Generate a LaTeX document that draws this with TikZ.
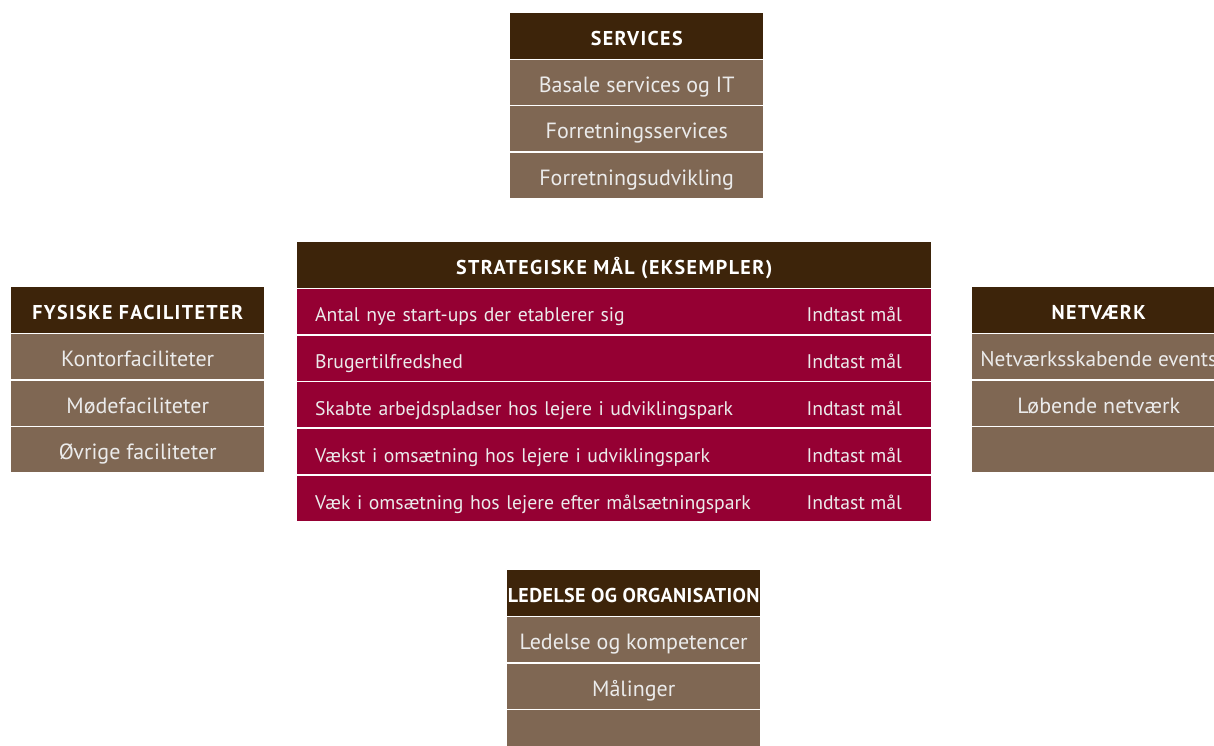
\documentclass[tikz,border=0pt]{standalone}
\usepackage{fontspec}
\setmainfont{PT Sans}
\usetikzlibrary{positioning}

\definecolor{headbrown}{HTML}{3D240A}
\definecolor{itembrown}{HTML}{7F6753}
\definecolor{goalred}{HTML}{950033}

\begin{document}
\begin{tikzpicture}[x=1pt, y=-1pt, node distance=1.5pt]

% Styles
\tikzset{
  head/.style={
    fill=headbrown,
    text=white,
    font=\bfseries\fontsize{20}{24}\selectfont\addfontfeature{LetterSpace=7},
    minimum width=253pt,
    minimum height=46pt,
    text height=18pt,
    text depth=0pt,
    inner sep=0pt
  },
  item/.style={
    fill=itembrown,
    text=white!92!black,
    font=\fontsize{22}{26}\selectfont,
    minimum width=253pt,
    minimum height=45pt,
    text height=20pt,
    text depth=0pt,
    inner sep=0pt
  },
  goal/.style={
    fill=goalred,
    text=white!92!black,
    font=\fontsize{19.7}{24}\selectfont,
    text width=598pt,
    align=left,
    inner xsep=18pt,
    inner ysep=0pt,
    minimum height=45pt,
    text height=21pt,
    text depth=0pt
  },
  target/.style={
    text=white!92!black,
    font=\fontsize{19.7}{24}\selectfont,
    inner sep=0pt,
    text height=21pt,
    text depth=0pt,
    anchor=west
  }
}

% Canvas
\fill[white] (0,0) rectangle (1214,746);
\useasboundingbox (0,0) rectangle (1214,746);

% Services
\node[head, anchor=north west] (svc) at (510,13) {SERVICES};
\node[item, below=0pt of svc] (svc1) {Basale services og IT};
\node[item, below=of svc1] (svc2) {Forretningsservices};
\node[item, below=of svc2] (svc3) {Forretningsudvikling};

% Strategiske maal
\node[head, anchor=north west, minimum width=634pt] (mal) at (297,242) {STRATEGISKE MÅL (EKSEMPLER)};
\node[goal, below=0pt of mal] (mal1) {Antal nye start-ups der etablerer sig};
\node[goal, below=of mal1] (mal2) {Brugertilfredshed};
\node[goal, below=of mal2] (mal3) {Skabte arbejdspladser hos lejere i udviklingspark};
\node[goal, below=of mal3] (mal4) {Vækst i omsætning hos lejere i udviklingspark};
\node[goal, below=of mal4] (mal5) {Væk i omsætning hos lejere efter målsætningspark};

\node[target] (t1) at ([xshift=-125pt]mal1.east) {Indtast mål};
\node[target] (t2) at ([xshift=-125pt]mal2.east) {Indtast mål};
\node[target] (t3) at ([xshift=-125pt]mal3.east) {Indtast mål};
\node[target] (t4) at ([xshift=-125pt]mal4.east) {Indtast mål};
\node[target] (t5) at ([xshift=-125pt]mal5.east) {Indtast mål};

% Fysiske faciliteter
\node[head, anchor=north west] (fys) at (11,287) {FYSISKE FACILITETER};
\node[item, below=0pt of fys] (fys1) {Kontorfaciliteter};
\node[item, below=of fys1] (fys2) {Mødefaciliteter};
\node[item, below=of fys2] (fys3) {Øvrige faciliteter};

% Netvaerk
\node[head, anchor=north west] (net) at (972,287) {NETVÆRK};
\node[item, below=0pt of net, font=\fontsize{21.3}{26}\selectfont] (net1) {Netværksskabende events};
\node[item, below=of net1] (net2) {Løbende netværk};
\node[item, below=of net2] (net3) {};

% Ledelse og organisation
\node[head, anchor=north west,
      font=\bfseries\fontsize{20}{24}\selectfont\addfontfeature{LetterSpace=2}] (led) at (507,570) {LEDELSE OG ORGANISATION};
\node[item, below=0pt of led] (led1) {Ledelse og kompetencer};
\node[item, below=of led1] (led2) {Målinger};
\node[item, below=of led2] (led3) {};

\end{tikzpicture}
\end{document}
